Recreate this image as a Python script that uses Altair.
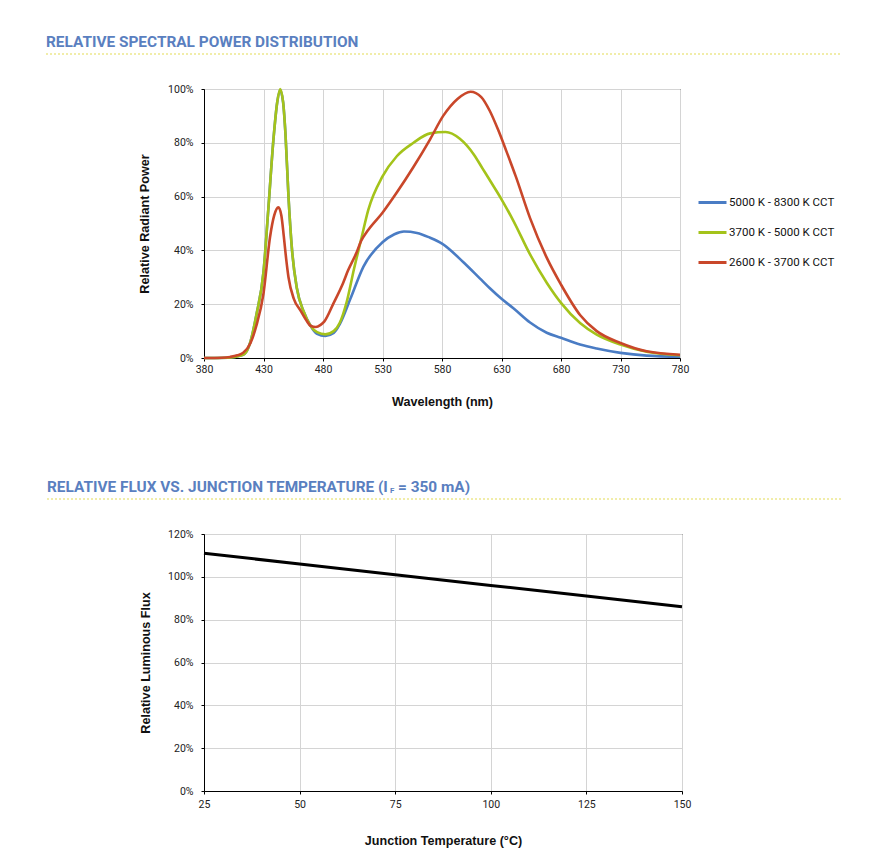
import altair as alt
import pandas as pd

# ---------------- data: relative spectral power distribution ----------------
series_names = ["5000 K - 8300 K CCT", "3700 K - 5000 K CCT", "2600 K - 3700 K CCT"]
series_colors = ["#4a7cc4", "#a4c31a", "#c9472a"]

wl_blue = [380, 400, 406, 410, 414, 419, 424, 430, 434, 438.5, 441.5, 444, 446.5, 448.5, 451, 454, 458,
           464, 469.5, 475, 482, 489, 494, 503, 514, 530, 540, 548, 559, 570, 580, 598, 612, 620, 630,
           640, 654, 668, 680, 696, 710, 730, 752, 780]
val_blue = [0, 0.1, 0.4, 0.8, 1.5, 6, 16, 32, 55, 82, 95, 99.5, 95, 83, 60, 40, 26,
            17, 12, 9, 8.2, 9.3, 12.5, 22, 34, 43, 46, 47, 46.5, 44.7, 42.5, 35.6, 29.5, 26, 22,
            18.5, 13.2, 9.4, 7.5, 5, 3.5, 1.9, 0.9, 0.5]

wl_green = [380, 400, 406, 410, 414, 419, 424, 430, 434, 438.5, 441.5, 444, 446.5, 448.5, 451, 454, 458,
            464, 469.5, 475, 482, 489, 494, 500, 506, 512, 518, 530, 542, 556, 570, 583, 595, 607, 614,
            621, 630, 640, 654, 668, 680, 696, 710, 730, 752, 780]
val_green = [0, 0.1, 0.4, 0.8, 1.5, 6, 16, 32, 55, 82, 95, 100, 95, 83, 60, 40, 26,
             17, 12, 9.6, 8.8, 10, 13, 21, 33, 44, 55, 67.5, 75, 80, 83.5, 84, 81.5, 75.5, 70.5,
             65.5, 59, 51, 38.5, 28, 20.5, 13, 8.7, 5, 2.3, 1]

wl_red = [380, 395, 402, 408, 413, 419, 424, 430, 435.5, 439, 442.5, 445, 447, 449, 451, 455.5, 461,
          466, 469.5, 474, 478, 481, 489, 497, 501, 508, 512, 517, 530, 542, 556, 570, 581, 593, 604,
          613, 620, 627, 634, 642, 654, 668, 680, 696, 710, 730, 752, 780]
val_red = [0, 0.1, 0.4, 1, 2, 5.5, 12, 24, 45, 53, 56, 53, 45.5, 37, 30, 22, 17.7,
           14, 12, 11.5, 12.3, 13.5, 20.5, 28, 32.5, 39, 43.5, 47, 54, 61.5, 71, 81.3, 90, 96.3, 99,
           97, 92, 85, 77, 67.5, 52, 37.3, 27.3, 16, 10, 5.6, 2.5, 1.2]

wl_ticks = [380, 430, 480, 530, 580, 630, 680, 730, 780]
spd_ticks = [0, 20, 40, 60, 80, 100]

# ---------------- data: relative flux vs junction temperature ----------------
temp_c = [25, 50, 75, 100, 125, 150]
rel_flux = [111, 106, 101, 96, 91, 86]
temp_ticks = [25, 50, 75, 100, 125, 150]
flux_ticks = [0, 20, 40, 60, 80, 100, 120]

title_top = "RELATIVE SPECTRAL POWER DISTRIBUTION"
title_bot_a = "RELATIVE FLUX VS. JUNCTION TEMPERATURE (I"
title_bot_sub = "F"
title_bot_b = "= 350 mA)"

TITLE_COLOR = "#5a7fc0"
DASH_COLOR = "#e3dc55"
LABEL_FONT = "Roboto"
TITLE_FONT = "Liberation Sans"


def section_title(text, dx, dy, size=15.4):
    return alt.Chart(pd.DataFrame({"t": [text]})).mark_text(
        align="left", baseline="middle", font="Roboto", fontWeight="bold",
        fontSize=size, color=TITLE_COLOR
    ).encode(text="t:N", x=alt.value(dx), y=alt.value(dy))


def dash_rule(x1, x2, y):
    return alt.Chart(pd.DataFrame({"a": [0]})).mark_rule(
        color=DASH_COLOR, strokeDash=[2, 2], strokeWidth=1.2
    ).encode(x=alt.value(x1), x2=alt.value(x2), y=alt.value(y))


def spd_layer(wl, vals, name):
    df = pd.DataFrame({"wl": wl, "val": vals, "series": name})
    return alt.Chart(df).mark_line(strokeWidth=2.6, interpolate="monotone").encode(
        x=alt.X("wl:Q", scale=alt.Scale(domain=[380, 780], nice=False),
                axis=alt.Axis(values=wl_ticks, title="Wavelength (nm)", titlePadding=21,
                              labelPadding=3, tickSize=3, labelFlush=False)),
        y=alt.Y("val:Q", scale=alt.Scale(domain=[0, 100], nice=False),
                axis=alt.Axis(values=spd_ticks, labelExpr="datum.value + '%'",
                              title="Relative Radiant Power", titlePadding=16,
                              labelPadding=8, tickSize=3)),
        color=alt.Color("series:N",
                        scale=alt.Scale(domain=series_names, range=series_colors),
                        legend=alt.Legend(title=None, orient="none", legendX=493, legendY=98,
                                          symbolType="stroke", symbolSize=784,
                                          symbolStrokeWidth=3, labelFont=LABEL_FONT,
                                          labelFontSize=11.5, labelColor="#111",
                                          rowPadding=8, labelOffset=1)),
    )


top = alt.layer(
    spd_layer(wl_blue, val_blue, series_names[0]),
    spd_layer(wl_green, val_green, series_names[1]),
    spd_layer(wl_red, val_red, series_names[2]),
    section_title(title_top, -158, -47),
    dash_rule(-158, 636, -35),
).properties(width=476, height=269)

flux_df = pd.DataFrame({"temp": temp_c, "flux": rel_flux})
flux_line = alt.Chart(flux_df).mark_line(color="black", strokeWidth=3).encode(
    x=alt.X("temp:Q", scale=alt.Scale(domain=[25, 150], nice=False),
            axis=alt.Axis(values=temp_ticks, title="Junction Temperature (°C)", titlePadding=25,
                          labelPadding=5, tickSize=3, labelFlush=False)),
    y=alt.Y("flux:Q", scale=alt.Scale(domain=[0, 120], nice=False),
            axis=alt.Axis(values=flux_ticks, labelExpr="datum.value + '%'",
                          title="Relative Luminous Flux", titlePadding=15,
                          labelPadding=8, tickSize=3)),
)

bottom = alt.layer(
    flux_line,
    section_title(title_bot_a, -157, -47),
    section_title(title_bot_sub, 186, -43, size=8),
    section_title(title_bot_b, 194, -47),
    dash_rule(-157, 637, -35),
).properties(width=478, height=257)

chart = alt.vconcat(top, bottom, spacing=70).resolve_scale(color="independent").properties(
    padding={"left": 36, "top": 26, "right": 5, "bottom": 5},
    background="white",
).configure_view(
    stroke="black", strokeWidth=1
).configure_axis(
    domainColor="black", tickColor="black", gridColor="#d4d4d4", gridWidth=1,
    labelFont=LABEL_FONT, labelFontSize=10.5, labelColor="#222",
    titleFont=TITLE_FONT, titleFontSize=12.6, titleFontWeight="bold", titleColor="#111",
)

chart.save("out.html", embed_options={"renderer": "svg", "actions": False})
